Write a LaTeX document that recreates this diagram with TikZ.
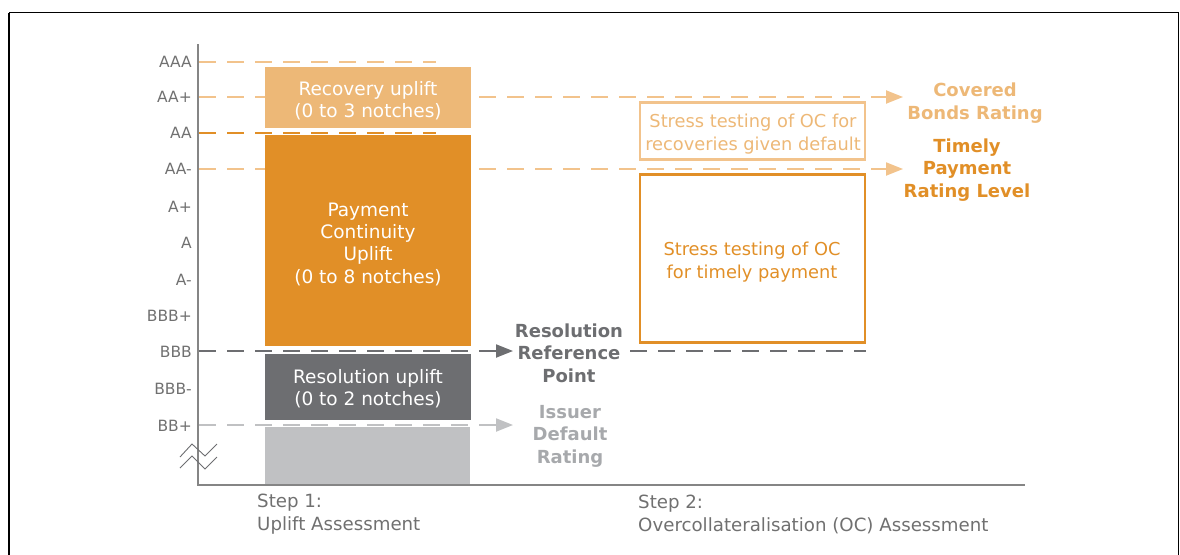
\documentclass[tikz,border=0pt]{standalone}
\usepackage{fontspec}
\setmainfont{DejaVu Sans}
\usetikzlibrary{arrows.meta}
\definecolor{lorange}{HTML}{EDB877}
\definecolor{lorangeline}{HTML}{F2C38C}
\definecolor{orangeb}{HTML}{E18F27}
\definecolor{dgray}{HTML}{6D6E71}
\definecolor{lgray}{HTML}{C0C1C3}
\definecolor{mgray}{HTML}{A7A9AC}
\definecolor{axgray}{HTML}{707070}
\begin{document}
\begin{tikzpicture}[x=1pt,y=-1pt,
  ratelbl/.style={anchor=east, font=\fontsize{15.5}{18}\selectfont, text=axgray, text height=11pt, text depth=0pt, inner sep=0pt},
  barbox/.style={rectangle, draw=none, inner sep=0pt, minimum width=206pt},
  bartext/.style={text=white, align=center, inner sep=0pt, font=\fontsize{18.5}{22.3}\selectfont},
  dline/.style={dash pattern=on 17pt off 11pt, line width=2.1pt},
  head/.style={-{Triangle[length=17pt,width=13pt]}},
  blabel/.style={font=\bfseries\fontsize{18}{22.5}\selectfont, align=center, inner sep=0pt},
  ocbox/.style={rectangle, line width=2.8pt, minimum width=225pt, inner sep=0pt},
  octext/.style={align=center, inner sep=0pt, font=\fontsize{17.8}{22.5}\selectfont},
  steptext/.style={anchor=west, align=left, inner sep=0pt, text=axgray, font=\fontsize{18.2}{23}\selectfont},
  axis/.style={draw=axgray!85, line width=1.2pt},
  zig/.style={draw=dgray, line width=0.9pt}
]
\useasboundingbox (0,0) rectangle (1180,554);
\clip (0,0) rectangle (1180,554);
% frame
\draw[line width=1.5pt, black] (9,12.5) -- (1178.5,12.5) -- (1178.5,570);
\draw[line width=1.5pt, black] (9,12.5) -- (9,570);

% axes
\coordinate (axtop) at (198,44);
\coordinate (axorig) at (198,485);
\coordinate (axend) at (1025,485);
\draw[axis] (axtop) -- (axorig) -- (axend);

% rating labels
\node[ratelbl] (lAAA) at (192,62) {AAA};
\node[ratelbl] (lAAp) at (192,97) {AA+};
\node[ratelbl] (lAA) at (192,133) {AA};
\node[ratelbl] (lAAm) at (192,169) {AA-};
\node[ratelbl] (lAp) at (192,207) {A+};
\node[ratelbl] (lA) at (192,243) {A};
\node[ratelbl] (lAm) at (192,280) {A-};
\node[ratelbl] (lBBBp) at (192,316) {BBB+};
\node[ratelbl] (lBBB) at (192,352) {BBB};
\node[ratelbl] (lBBBm) at (192,389) {BBB-};
\node[ratelbl] (lBBp) at (192,426) {BB+};

% zigzag break
\draw[zig] (180,457) -- (192,444) -- (205,456) -- (217,444);
\draw[zig] (180,468) -- (192,456) -- (205,469) -- (217,457);

% right side labels
\node[blabel, text=lorange] (cbr) at (975,103) {Covered\\Bonds Rating};
\node[blabel, text=orangeb] (tpr) at (967,170) {Timely\\Payment\\Rating Level};
\node[blabel, text=dgray] (rrp) at (569,353) {Resolution\\Reference\\Point};
\node[blabel, text=mgray] (idr) at (570,436) {Issuer\\Default\\Rating};

% dashed line coordinates
\coordinate (aaaS) at (199,62);
\coordinate (aaaE) at (436,62);
\coordinate (aapS) at (199,97);
\coordinate (aapE) at (903,97);
\coordinate (aaS) at (199,133);
\coordinate (aaE) at (436,133);
\coordinate (aamS) at (199,169);
\coordinate (aamE) at (903,169);
\coordinate (bbbS) at (199,351);
\coordinate (bbbE) at (513,351);
\coordinate (bbb2S) at (630,351);
\coordinate (bbb2E) at (866,351);
\coordinate (bbpS) at (199,425);
\coordinate (bbpE) at (513,425);

\draw[dline, lorangeline] (aaaS) -- (aaaE);
\draw[dline, lorangeline, head] (aapS) -- (aapE);
\draw[dline, orangeb] (aaS) -- (aaE);
\draw[dline, lorangeline, head] (aamS) -- (aamE);
\draw[dline, dgray, head] (bbbS) -- (bbbE);
\draw[dline, dgray] (bbb2S) -- (bbb2E);
\draw[dline, lgray, head] (bbpS) -- (bbpE);

% bars
\node[barbox, fill=lorange, minimum height=61pt] (recbar) at (368,97.5) {};
\node[barbox, fill=orangeb, minimum height=211pt] (paybar) at (368,240.5) {};
\node[barbox, fill=dgray, minimum height=66pt] (resbar) at (368,387) {};
\node[barbox, fill=lgray, minimum height=57pt, minimum width=205pt] (idrbar) at (367.5,455.5) {};

\node[bartext] (rectext) at (368,101) {Recovery uplift\\(0 to 3 notches)};
\node[bartext] (paytext) at (368,244.3) {Payment\\Continuity\\Uplift\\(0 to 8 notches)};
\node[bartext] (restext) at (368,389) {Resolution uplift\\(0 to 2 notches)};

% OC boxes
\node[ocbox, draw=lorangeline, minimum height=57pt] (ocrec) at (752.5,131) {};
\node[octext, text=lorange] (ocrectext) at (753,134) {Stress testing of OC for\\recoveries given default};
\node[ocbox, draw=orangeb, minimum height=168pt] (octim) at (752.5,258.5) {};
\node[octext, text=orangeb] (octimtext) at (752,262) {Stress testing of OC\\for timely payment};

% step labels
\node[steptext] (step1) at (257,514) {Step 1:\\Uplift Assessment};
\node[steptext] (step2) at (638,514) {Step 2:\\Overcollateralisation (OC) Assessment};
\end{tikzpicture}
\end{document}
